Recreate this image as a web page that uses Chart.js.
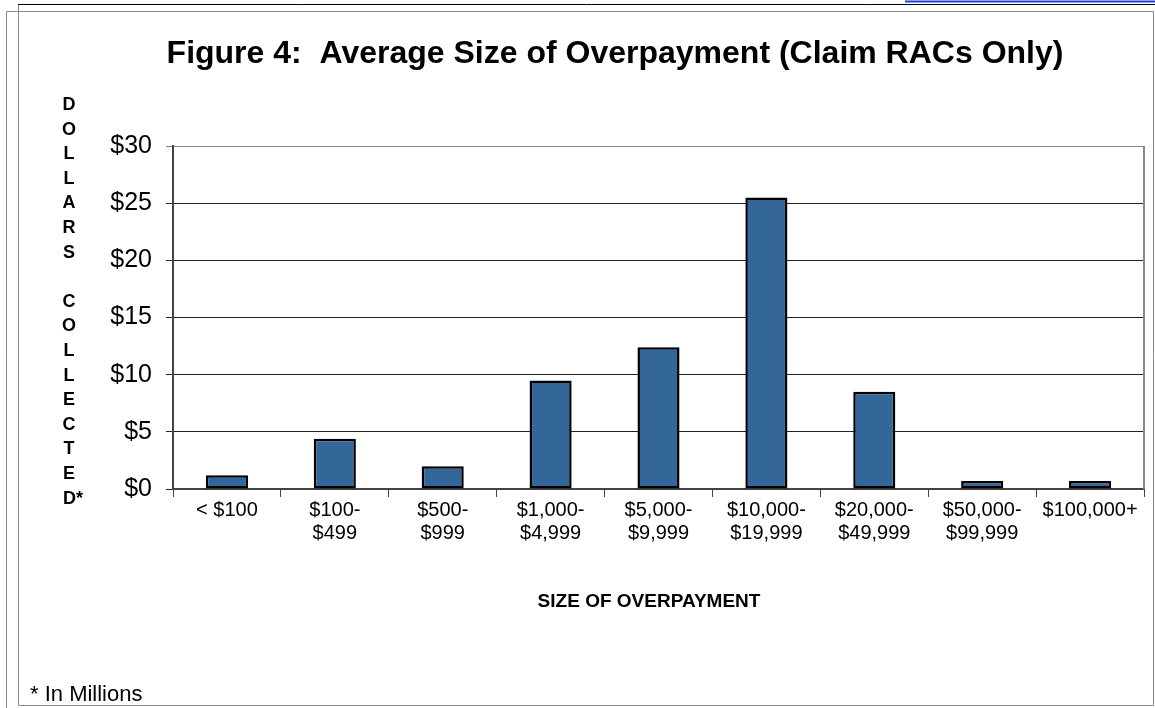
<!DOCTYPE html>
<html>
<head>
<meta charset="utf-8">
<script src="https://cdn.jsdelivr.net/npm/chart.js@4/dist/chart.umd.min.js"></script>
<style>
html, body { margin: 0; padding: 0; background: #fff; }
#wrap { position: relative; width: 1155px; height: 708px; }
</style>
</head>
<body>
<div id="wrap"><canvas id="chart"></canvas></div>
<script>
// data (millions of dollars)
var categories = [
    '< $100',
    ['$100-', '$499'],
    ['$500-', '$999'],
    ['$1,000-', '$4,999'],
    ['$5,000-', '$9,999'],
    ['$10,000-', '$19,999'],
    ['$20,000-', '$49,999'],
    ['$50,000-', '$99,999'],
    '$100,000+'
];
var dollarsCollected = [1.2, 4.4, 2.0, 9.5, 12.4, 25.5, 8.5, 0.7, 0.7];
var yTicks = [0, 5, 10, 15, 20, 25, 30];
var titleText = 'Figure 4:  Average Size of Overpayment (Claim RACs Only)';
var yTitleLines = ['D', 'O', 'L', 'L', 'A', 'R', 'S', '', 'C', 'O', 'L', 'L', 'E', 'C', 'T', 'E', 'D*'];
var xTitleText = 'SIZE OF OVERPAYMENT';
var footText = '* In Millions';

var FONT = '"Liberation Sans", Arial, sans-serif';

var decor = {
    id: 'decor',
    beforeDraw: function(chart) {
        var c = chart.ctx;
        c.save();
        // page frame
        c.lineWidth = 1;
        c.strokeStyle = '#888';
        c.beginPath();
        c.moveTo(6.5, 708); c.lineTo(6.5, 11.5); c.lineTo(1153.5, 11.5); c.lineTo(1153.5, 705.5);
        c.moveTo(18.5, 4); c.lineTo(18.5, 705.5); c.lineTo(1153.5, 705.5);
        c.stroke();
        c.strokeStyle = '#000';
        c.beginPath();
        c.moveTo(18, 4.5); c.lineTo(1155, 4.5);
        c.stroke();
        c.strokeStyle = '#1f3fe0';
        c.lineWidth = 2;
        c.beginPath();
        c.moveTo(905, 1.5); c.lineTo(1155, 1.5);
        c.stroke();
        c.restore();
    },
    afterDraw: function(chart) {
        var c = chart.ctx;
        var area = chart.chartArea;
        c.save();
        // right edge of plot area
        c.strokeStyle = '#888';
        c.lineWidth = 2;
        c.beginPath();
        c.moveTo(area.right, area.top);
        c.lineTo(area.right, area.bottom);
        c.stroke();

        c.fillStyle = '#000';
        c.textAlign = 'center';
        c.textBaseline = 'middle';
        c.font = 'bold 32px ' + FONT;
        c.fillText(titleText, 615, 54);

        c.font = 'bold 18px ' + FONT;
        yTitleLines.forEach(function(t, i) {
            if (t === 'D*') {
                c.textAlign = 'left';
                c.fillText(t, 63, 105 + i * 24.6);
                c.textAlign = 'center';
            } else {
                c.fillText(t, 69, 105 + i * 24.6);
            }
        });

        c.font = 'bold 19px ' + FONT;
        c.fillText(xTitleText, 649, 602);

        c.textAlign = 'left';
        c.font = '22px ' + FONT;
        c.fillText(footText, 30, 695);
        c.restore();
    }
};

var ctx = document.getElementById('chart').getContext('2d');
var chart = new Chart(ctx, {
    type: 'bar',
    data: {
        labels: categories,
        datasets: [{
            label: 'Dollars collected',
            data: dollarsCollected,
            backgroundColor: '#336699',
            borderColor: '#000',
            borderWidth: 2.5,
            borderSkipped: false,
            barPercentage: 0.39,
            categoryPercentage: 1
        }]
    },
    options: {
        responsive: true,
        maintainAspectRatio: false,
        animation: false,
        layout: { padding: { top: 146, right: 11, bottom: 0, left: 0 } },
        plugins: {
            legend: { display: false },
            title: { display: false },
            tooltip: { enabled: false }
        },
        scales: {
            x: {
                offset: true,
                afterFit: function(scale) { scale.height = 219; },
                grid: {
                    offset: true,
                    drawOnChartArea: false,
                    drawTicks: true,
                    tickLength: 8,
                    color: '#444'
                },
                border: { color: '#444', width: 2 },
                ticks: {
                    color: '#000',
                    font: { family: FONT, size: 20, lineHeight: 1.15 },
                    padding: 2,
                    maxRotation: 0,
                    autoSkip: false
                }
            },
            y: {
                min: yTicks[0],
                max: yTicks[yTicks.length - 1],
                afterFit: function(scale) { scale.width = 173; },
                afterBuildTicks: function(scale) {
                    scale.ticks = yTicks.map(function(v) { return { value: v }; });
                },
                grid: {
                    tickLength: 7,
                    lineWidth: 1,
                    color: function(context) {
                        return context.tick && context.tick.value === 30 ? '#888' : '#222';
                    }
                },
                border: { color: '#444', width: 2 },
                ticks: {
                    color: '#000',
                    font: { family: FONT, size: 25 },
                    padding: 14,
                    callback: function(v) { return '$' + v; }
                }
            }
        }
    },
    plugins: [decor]
});
</script>
</body>
</html>
